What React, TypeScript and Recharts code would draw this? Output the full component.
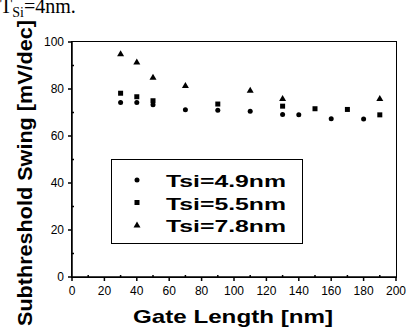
import React from 'react';
import { ScatterChart, Scatter, XAxis, YAxis, Legend } from 'recharts';

const xTicks = [0, 10, 20, 30, 40, 50, 60, 70, 80, 90, 100, 110, 120, 130, 140, 150, 160, 170, 180, 190, 200];
const yTicks = [0, 10, 20, 30, 40, 50, 60, 70, 80, 90, 100];

const series49Name = 'Tsi=4.9nm';
const series49X = [30, 40, 50, 70, 90, 110, 130, 140, 160, 180];
const series49Y = [74.3, 74.3, 73.3, 71.2, 71.0, 70.5, 69.2, 69.0, 67.3, 67.2];

const series55Name = 'Tsi=5.5nm';
const series55X = [30, 40, 50, 90, 130, 150, 170, 190];
const series55Y = [78.2, 76.7, 75.0, 73.6, 72.7, 71.6, 71.3, 69.0];

const series78Name = 'Tsi=7.8nm';
const series78X = [30, 40, 50, 70, 110, 130, 190];
const series78Y = [95.0, 91.5, 85.0, 81.5, 79.5, 76.0, 76.0];

const toPoints = (xs: number[], ys: number[]) => xs.map((x, i) => ({ x, y: ys[i] }));
const data49 = toPoints(series49X, series49Y);
const data55 = toPoints(series55X, series55Y);
const data78 = toPoints(series78X, series78Y);

const SANS = 'Arial, "Liberation Sans", sans-serif';
const SERIF = '"Times New Roman", "Liberation Serif", serif';

const W = 409, H = 332, ML = 72, MR = 13, MT = 42, XH = 55;
const PL = ML, PR = W - MR, PT = MT, PB = H - XH;

const CircleShape = (p: any) => <circle cx={p.cx} cy={p.cy} r={2.5} fill="#000" />;
const SquareShape = (p: any) => <rect x={p.cx - 2.5} y={p.cy - 2.5} width={5} height={5} fill="#000" />;
const TriangleShape = (p: any) => (
  <polygon points={`${p.cx},${p.cy - 3.5} ${p.cx - 3.5},${p.cy + 2.5} ${p.cx + 3.5},${p.cy + 2.5}`} fill="#000" />
);

const BottomTick = (p: any) => {
  const x = Number(p.x);
  const y = Number(p.y);
  const major = p.payload.value % 20 === 0;
  return (
    <g>
      <line x1={x} x2={x} y1={y} y2={major ? y + 4 : y - 2} stroke="#000" strokeWidth={1.5} />
      {major && (
        <text x={x} y={y + 18} textAnchor="middle" fontSize={12} fontFamily={SANS} fill="#000">
          {p.payload.value}
        </text>
      )}
    </g>
  );
};

const TopTick = (p: any) => {
  const x = Number(p.x);
  const y = Number(p.y);
  const major = p.payload.value % 20 === 0;
  return <line x1={x} x2={x} y1={y} y2={y + (major ? 4 : 2)} stroke="#000" strokeWidth={1.5} />;
};

const LeftTick = (p: any) => {
  const x = Number(p.x);
  const y = Number(p.y);
  const major = p.payload.value % 20 === 0;
  return (
    <g>
      <line x1={x} x2={major ? x - 4 : x + 2} y1={y} y2={y} stroke="#000" strokeWidth={1.5} />
      {major && (
        <text x={x - 8} y={y + 4} textAnchor="end" fontSize={12} fontFamily={SANS} fill="#000">
          {p.payload.value}
        </text>
      )}
    </g>
  );
};

const RightTick = (p: any) => {
  const x = Number(p.x);
  const y = Number(p.y);
  const major = p.payload.value % 20 === 0;
  return <line x1={x} x2={x - (major ? 4 : 2)} y1={y} y2={y} stroke="#000" strokeWidth={1.5} />;
};

const XLabel = () => (
  <text x={233} y={323} textAnchor="middle" fontSize={19} fontWeight="bold" fontFamily={SANS} fill="#000"
    textLength={200} lengthAdjust="spacingAndGlyphs">
    Gate Length [nm]
  </text>
);

const YLabel = () => (
  <text x={32} y={173} textAnchor="middle" fontSize={21} fontWeight="bold" fontFamily={SANS} fill="#000"
    transform="rotate(-90, 32, 173)" textLength={306} lengthAdjust="spacingAndGlyphs">
    Subthreshold Swing [mV/dec]
  </text>
);

const legendItems = [
  { name: series49Name, shape: 'circle' },
  { name: series55Name, shape: 'square' },
  { name: series78Name, shape: 'triangle' },
];

const LegendBox = () => (
  <div style={{ width: 190, height: 83, border: '1px solid #000', background: '#fff', position: 'relative' }}>
    <svg width={190} height={83} style={{ display: 'block' }}>
      {legendItems.map((item, i) => {
        const cy = 20 + i * 22.5;
        const cx = 25;
        return (
          <g key={item.name}>
            {item.shape === 'circle' && <circle cx={cx} cy={cy} r={2.5} fill="#000" />}
            {item.shape === 'square' && <rect x={cx - 2.5} y={cy - 2.5} width={5} height={5} fill="#000" />}
            {item.shape === 'triangle' && (
              <polygon points={`${cx},${cy - 3.5} ${cx - 3.5},${cy + 2.5} ${cx + 3.5},${cy + 2.5}`} fill="#000" />
            )}
            <text x={54} y={cy + 7} fontSize={17} fontWeight="bold" fontFamily={SANS} fill="#000"
              textLength={120} lengthAdjust="spacingAndGlyphs">
              {item.name}
            </text>
          </g>
        );
      })}
    </svg>
  </div>
);

const al = { stroke: '#000', strokeWidth: 1.5 };

export default function App() {
  return (
    <div style={{ position: 'absolute', left: 0, top: 0, width: W, height: H, background: '#fff' }}>
      <div style={{ position: 'relative', width: W, height: H }}>
        <ScatterChart width={W} height={H} margin={{ top: MT, right: MR, left: 0, bottom: 0 }}>
          <XAxis xAxisId="b" dataKey="x" type="number" domain={[0, 200]} ticks={xTicks} interval={0}
            orientation="bottom" height={XH} tickSize={0} tickMargin={0} tick={BottomTick} axisLine={al}
            allowDataOverflow label={XLabel} />
          <XAxis xAxisId="t" type="number" domain={[0, 200]} ticks={xTicks} interval={0}
            orientation="top" height={0} tickSize={0} tickMargin={0} tick={TopTick} axisLine={al} allowDataOverflow />
          <YAxis yAxisId="l" dataKey="y" type="number" domain={[0, 100]} ticks={yTicks} interval={0}
            orientation="left" width={ML} tickSize={0} tickMargin={0} tick={LeftTick} axisLine={al}
            allowDataOverflow label={YLabel} />
          <YAxis yAxisId="r" type="number" domain={[0, 100]} ticks={yTicks} interval={0}
            orientation="right" width={0} tickSize={0} tickMargin={0} tick={RightTick} axisLine={al} allowDataOverflow />
          <Scatter name={series49Name} data={data49} xAxisId="b" yAxisId="l" fill="#000" shape={CircleShape} isAnimationActive={false} />
          <Scatter name={series55Name} data={data55} xAxisId="b" yAxisId="l" fill="#000" shape={SquareShape} isAnimationActive={false} />
          <Scatter name={series78Name} data={data78} xAxisId="b" yAxisId="l" fill="#000" shape={TriangleShape} isAnimationActive={false} />
          <Legend layout="horizontal" verticalAlign="middle" align="center" content={LegendBox}
            wrapperStyle={{ position: 'absolute', left: 111, top: 159, width: 192, height: 85 }} />
        </ScatterChart>
        <div style={{ position: 'absolute', left: PL - 1, top: PT - 1, width: PR - PL, height: PB - PT,
          border: '1.5px solid #000', pointerEvents: 'none', boxSizing: 'content-box' }} />
        <div style={{ position: 'absolute', left: 0, top: -4, fontFamily: SERIF, fontSize: 20, lineHeight: '20px', whiteSpace: 'nowrap' }}>
          T<span style={{ fontSize: 14, position: 'relative', top: 4 }}>Si</span>=4nm.
        </div>
      </div>
    </div>
  );
}
